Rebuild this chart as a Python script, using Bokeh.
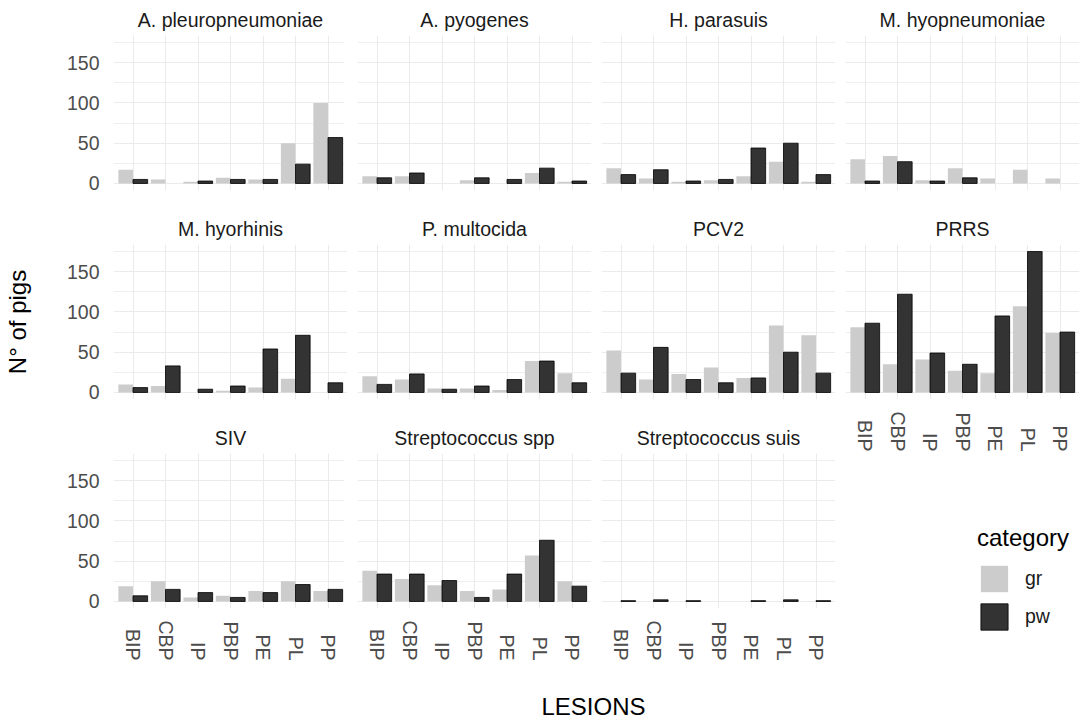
import math
from bokeh.plotting import figure
from bokeh.layouts import row, column
from bokeh.models import (ColumnDataSource, FactorRange, Range1d, FixedTicker,
                          Legend, LegendItem, Label, CDSView, BooleanFilter)
from bokeh.core.properties import value
from bokeh.transform import dodge
from bokeh.embed import file_html
from bokeh.resources import INLINE

# ---------------- data ----------------
lesions = ["BIP", "CBP", "IP", "PBP", "PE", "PL", "PP"]
categories = ["gr", "pw"]

apleuro_gr = [17, 5, 2, 7, 5, 50, 100]
apleuro_pw = [5, 0, 3, 5, 5, 24, 57]
apyog_gr = [9, 9, 0, 4, 0, 13, 2]
apyog_pw = [7, 13, 0, 7, 5, 19, 3]
hpara_gr = [19, 6, 2, 4, 9, 27, 2]
hpara_pw = [11, 17, 3, 5, 44, 50, 11]
mhyop_gr = [30, 34, 4, 19, 6, 17, 6]
mhyop_pw = [3, 27, 3, 7, 0, 0, 0]
mhyor_gr = [10, 8, 0, 2, 6, 17, 0]
mhyor_pw = [6, 33, 4, 8, 54, 71, 12]
pmult_gr = [20, 16, 5, 5, 3, 39, 24]
pmult_pw = [10, 23, 4, 8, 16, 39, 12]
pcv2_gr = [52, 16, 23, 31, 18, 83, 71]
pcv2_pw = [24, 56, 16, 12, 18, 50, 24]
prrs_gr = [81, 35, 41, 27, 24, 107, 74]
prrs_pw = [86, 122, 49, 35, 95, 175, 75]
siv_gr = [19, 25, 5, 7, 13, 25, 13]
siv_pw = [7, 15, 11, 5, 11, 21, 15]
sspp_gr = [38, 28, 20, 13, 15, 57, 25]
sspp_pw = [34, 34, 26, 5, 34, 76, 19]
ssuis_gr = [0, 0, 0, 0, 0, 0, 0]
ssuis_pw = [1, 2, 1, 0, 1, 2, 1]

panel_titles = ["A. pleuropneumoniae", "A. pyogenes", "H. parasuis", "M. hyopneumoniae",
                "M. hyorhinis", "P. multocida", "PCV2", "PRRS",
                "SIV", "Streptococcus spp", "Streptococcus suis"]
panel_gr = [apleuro_gr, apyog_gr, hpara_gr, mhyop_gr, mhyor_gr, pmult_gr, pcv2_gr, prrs_gr,
            siv_gr, sspp_gr, ssuis_gr]
panel_pw = [apleuro_pw, apyog_pw, hpara_pw, mhyop_pw, mhyor_pw, pmult_pw, pcv2_pw, prrs_pw,
            siv_pw, sspp_pw, ssuis_pw]

y_ticks = [0, 50, 100, 150]
y_minor = [25, 75, 125, 175]

# ---------------- style ----------------
FONT = "Liberation Sans"
GR_COLOR = "#CCCCCC"
PW_COLOR = "#333333"
GRID = "#EBEBEB"
FRAME_W, FRAME_H = 234, 155
SMALL = "19.5px"
BIG = "24px"
LEFT0 = 110      # left border of first column
GAP = 10         # gap between columns
LABEL_END = 52   # x tick labels end this far below the panel


def blank(fig):
    fig.axis.visible = False
    fig.grid.visible = False
    fig.outline_line_color = None
    fig.background_fill_color = "white"
    fig.border_fill_color = "white"


def make_panel(idx):
    r, c = divmod(idx, 4)
    left = LEFT0 if c == 0 else GAP
    top = 35 if r == 0 else 46
    bottom = 0 if idx == 7 else 8
    p = figure(frame_width=FRAME_W, frame_height=FRAME_H,
               x_range=FactorRange(factors=lesions, range_padding=0.2 / 7,
                                   range_padding_units="percent"),
               y_range=Range1d(-8.75, 183.75),
               output_backend="svg", toolbar_location=None, title=panel_titles[idx],
               min_border_left=left, min_border_right=0,
               min_border_top=top, min_border_bottom=bottom)
    p.background_fill_color = "white"
    p.border_fill_color = "white"
    p.outline_line_color = None

    p.title.align = "center"
    p.title.text_font = FONT
    p.title.text_font_size = SMALL
    p.title.text_font_style = "normal"
    p.title.text_color = "#1A1A1A"
    p.title.standoff = 10

    gr = panel_gr[idx]
    pw = panel_pw[idx]
    src = ColumnDataSource(dict(lesion=lesions, gr=gr, pw=pw))
    p.vbar(x=dodge("lesion", -0.225, range=p.x_range), top="gr", width=0.45,
           source=src, fill_color=GR_COLOR, line_color=None)
    view = CDSView(filter=BooleanFilter([v > 0 for v in pw]))
    p.vbar(x=dodge("lesion", 0.225, range=p.x_range), top="pw", width=0.45,
           source=src, view=view, fill_color=PW_COLOR, line_color="black", line_width=0.8)

    ticker = FixedTicker(ticks=y_ticks, minor_ticks=y_minor)
    p.xaxis.visible = False
    p.xgrid.grid_line_color = GRID
    p.xgrid.grid_line_width = 1.1
    p.ygrid.ticker = ticker
    p.ygrid.grid_line_color = GRID
    p.ygrid.grid_line_width = 1.1
    p.ygrid.minor_grid_line_color = GRID
    p.ygrid.minor_grid_line_width = 0.8

    ax = p.yaxis[0]
    ax.ticker = ticker
    if c == 0:
        ax.axis_line_color = None
        ax.major_tick_line_color = None
        ax.minor_tick_line_color = None
        ax.major_tick_out = 0
        ax.major_tick_in = 0
        ax.minor_tick_out = 0
        ax.minor_tick_in = 0
        ax.major_label_standoff = 14
        ax.major_label_text_font = FONT
        ax.major_label_text_font_size = SMALL
        ax.major_label_text_color = "#4D4D4D"
        if r == 1:
            ax.axis_label = "N° of pigs"
            ax.axis_label_text_font = FONT
            ax.axis_label_text_font_size = BIG
            ax.axis_label_text_font_style = "normal"
            ax.axis_label_text_color = "black"
            ax.axis_label_standoff = 33
    else:
        ax.visible = False
    return p, bottom


def make_label_strip(panel, panel_bottom, left, height):
    s = figure(frame_width=FRAME_W, frame_height=height,
               x_range=panel.x_range, y_range=Range1d(-height, 0),
               output_backend="svg", toolbar_location=None,
               min_border_left=left, min_border_right=0, min_border_top=0, min_border_bottom=0)
    blank(s)
    lab_src = ColumnDataSource(dict(lesion=lesions))
    s.text(x="lesion", y=-(LABEL_END - panel_bottom), text="lesion", source=lab_src,
           angle=-math.pi / 2, text_align="right", text_baseline="middle",
           text_font=value(FONT), text_font_size=SMALL, text_color="#4D4D4D")
    return s


built = [make_panel(i) for i in range(len(panel_titles))]
panels = [b[0] for b in built]
bottoms = [b[1] for b in built]

strip8 = make_label_strip(panels[8], bottoms[8], LEFT0, 52)
strip9 = make_label_strip(panels[9], bottoms[9], GAP, 52)
strip10 = make_label_strip(panels[10], bottoms[10], GAP, 52)
strip7 = make_label_strip(panels[7], bottoms[7], GAP, 56)

# legend figure (bottom right cell)
lg = figure(width=FRAME_W + GAP, height=213, x_range=Range1d(0, 1), y_range=Range1d(0, 1),
            output_backend="svg", toolbar_location=None,
            min_border_left=0, min_border_right=0, min_border_top=0, min_border_bottom=0)
blank(lg)
dummy = ColumnDataSource(dict(x=[-10], top=[-10]))
r_gr = lg.vbar(x="x", top="top", width=0.5, source=dummy, fill_color=GR_COLOR, line_color=None)
r_pw = lg.vbar(x="x", top="top", width=0.5, source=dummy, fill_color=PW_COLOR,
               line_color="black", line_width=0.8)
legend = Legend(items=[LegendItem(label=categories[0], renderers=[r_gr]),
                       LegendItem(label=categories[1], renderers=[r_pw])],
                location=(132, 35), title="category",
                glyph_width=34, glyph_height=33, label_standoff=14, spacing=5,
                padding=0, margin=0, border_line_color=None, background_fill_alpha=0,
                title_text_font=FONT, title_text_font_size=BIG, title_text_font_style="normal",
                title_text_color="black", title_standoff=10,
                label_text_font=FONT, label_text_font_size=SMALL, label_text_color="#1A1A1A")
lg.add_layout(legend)

# bottom x-axis title
total_w = LEFT0 + FRAME_W + 3 * (FRAME_W + GAP)
lf = figure(width=total_w, height=54, x_range=Range1d(0, 1), y_range=Range1d(0, 1),
            output_backend="svg", toolbar_location=None,
            min_border_left=LEFT0, min_border_right=0, min_border_top=0, min_border_bottom=0)
blank(lf)
lf.add_layout(Label(x=0.5, y=16, y_units="screen", text="LESIONS", text_align="center",
                    text_baseline="middle", text_font=FONT, text_font_size=BIG,
                    text_color="black"))

col0 = column(panels[0], panels[4], panels[8], strip8)
col1 = column(panels[1], panels[5], panels[9], strip9)
col2 = column(panels[2], panels[6], panels[10], strip10)
col3 = column(panels[3], panels[7], strip7, lg)
layout = column(row(col0, col1, col2, col3), lf)

open("out.html", "w").write(file_html(layout, INLINE))
